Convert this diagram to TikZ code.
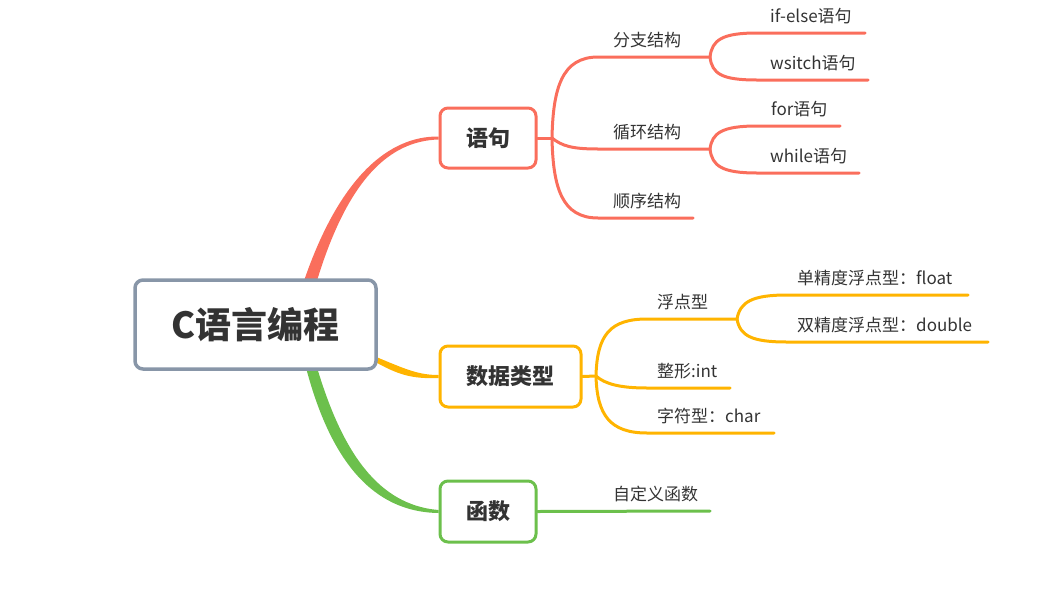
\documentclass[tikz,border=0pt]{standalone}
\usepackage{fontspec}
\setmainfont{Noto Sans CJK SC}
\definecolor{mmred}{RGB}{250,110,92}
\definecolor{mmorange}{RGB}{255,180,0}
\definecolor{mmgreen}{RGB}{108,192,76}
\definecolor{mmgray}{RGB}{136,150,168}
\definecolor{mmtext}{RGB}{51,51,51}
\pgfdeclarelayer{background}
\pgfsetlayers{background,main}
\begin{document}
\begin{tikzpicture}[x=1pt,y=-1pt,line cap=round,line join=round,
  box/.style={draw,rounded corners=8pt,line width=3pt,fill=white,inner sep=0pt,text=mmtext,
    font=\fontsize{22}{24}\selectfont\bfseries},
  lbl/.style={anchor=base west,inner sep=0pt,text=mmtext,font=\fontsize{17}{19}\selectfont},
  br/.style={line width=3pt}]
  \useasboundingbox (0,0) rectangle (1060,592);
  % boxes
  \node[box,draw=mmgray,line width=3.5pt,minimum width=241,minimum height=89,
    font=\fontsize{36}{40}\selectfont\bfseries] (root) at (255.5,324.5) {C语言编程};
  \node[box,draw=mmred,minimum width=96,minimum height=60] (yuju) at (488,138) {语句};
  \node[box,draw=mmorange,minimum width=141,minimum height=61] (shuju) at (510.5,376.5) {数据类型};
  \node[box,draw=mmgreen,minimum width=96,minimum height=61] (hanshu) at (488,511.5) {函数};
  % main branches
  \begin{pgfonlayer}{background}
  \fill[mmred] ([xshift=48,yshift=-4]root.north) .. controls (340,175) and (390,136) .. ([yshift=1.5]yuju.west)
    -- ([yshift=-1.5]yuju.west) .. controls (390,141) and (348,178) .. ([xshift=61,yshift=-4]root.north) -- cycle;
  \fill[mmorange] ([xshift=-5,yshift=-31]root.east) .. controls (405,369) and (418,375) .. ([yshift=1.5]shuju.west)
    -- ([yshift=-1.5]shuju.west) .. controls (412,379) and (398,375) .. ([xshift=-5,yshift=-36]root.east) -- cycle;
  \fill[mmgreen] ([xshift=50,yshift=5]root.south) .. controls (330,460) and (372,512) .. ([yshift=-1.5]hanshu.west)
    -- ([yshift=1.5]hanshu.west) .. controls (378,505) and (342,452) .. ([xshift=61,yshift=5]root.south) -- cycle;
  \end{pgfonlayer}
  % 语句
  \coordinate (yf) at (552,138);
  \coordinate (fz0) at (598,57);  \coordinate (fz1) at (710,57);
  \coordinate (xh0) at (598,149); \coordinate (xh1) at (710,149);
  \coordinate (sx0) at (598,218); \coordinate (sx1) at (693,218);
  \coordinate (ie0) at (757,33);  \coordinate (ie1) at (865,33);
  \coordinate (ws0) at (757,80);  \coordinate (ws1) at (868,80);
  \coordinate (fo0) at (757,126); \coordinate (fo1) at (840,126);
  \coordinate (wh0) at (757,173); \coordinate (wh1) at (859,173);
  \draw[br,mmred] (yuju.east) -- (yf);
  \draw[br,mmred] (yf) .. controls (553,88) and (562,57) .. (fz0) -- (fz1);
  \draw[br,mmred] (yf) .. controls (562,146) and (572,149) .. (xh0) -- (xh1);
  \draw[br,mmred] (yf) .. controls (553,188) and (562,218) .. (sx0) -- (sx1);
  \draw[br,mmred] (fz1) .. controls (712,40) and (722,33) .. (ie0) -- (ie1);
  \draw[br,mmred] (fz1) .. controls (712,74) and (722,80) .. (ws0) -- (ws1);
  \draw[br,mmred] (xh1) .. controls (712,133) and (722,126) .. (fo0) -- (fo1);
  \draw[br,mmred] (xh1) .. controls (712,166) and (722,173) .. (wh0) -- (wh1);
  \node[lbl] (fenzhi) at (613,46) {分支结构};
  \node[lbl] (xunhuan) at (613,138) {循环结构};
  \node[lbl] (shunxu) at (613,207) {顺序结构};
  \node[lbl] (ifelse) at (770,22) {if-else语句};
  \node[lbl] (wsitch) at (770,69) {wsitch语句};
  \node[lbl] (forl) at (771,115) {for语句};
  \node[lbl] (whilel) at (770,162) {while语句};
  % 数据类型
  \coordinate (sf) at (596,376);
  \coordinate (fd0) at (647,319); \coordinate (fd1) at (737,319);
  \coordinate (zx0) at (647,388); \coordinate (zx1) at (730,388);
  \coordinate (zf0) at (647,433); \coordinate (zf1) at (774,433);
  \coordinate (dj0) at (787,295); \coordinate (dj1) at (968,295);
  \coordinate (sj0) at (787,342); \coordinate (sj1) at (988,342);
  \draw[br,mmorange] (shuju.east) -- (sf);
  \draw[br,mmorange] (sf) .. controls (597,335) and (610,319) .. (fd0) -- (fd1);
  \draw[br,mmorange] (sf) .. controls (605,384) and (620,388) .. (zx0) -- (zx1);
  \draw[br,mmorange] (sf) .. controls (597,415) and (610,433) .. (zf0) -- (zf1);
  \draw[br,mmorange] (fd1) .. controls (740,302) and (752,295) .. (dj0) -- (dj1);
  \draw[br,mmorange] (fd1) .. controls (740,336) and (752,342) .. (sj0) -- (sj1);
  \node[lbl] (fudian) at (657,308) {浮点型};
  \node[lbl] (zhengxing) at (657,377) {整形:int};
  \node[lbl] (zifu) at (657,422) {字符型：char};
  \node[lbl] (danjing) at (797,284) {单精度浮点型：float};
  \node[lbl] (shuangjing) at (797,331) {双精度浮点型：double};
  % 函数
  \coordinate (zd1) at (710,511);
  \draw[br,mmgreen] (hanshu.east) -- (zd1);
  \node[lbl] (zidingyi) at (613,500) {自定义函数};
\end{tikzpicture}
\end{document}
